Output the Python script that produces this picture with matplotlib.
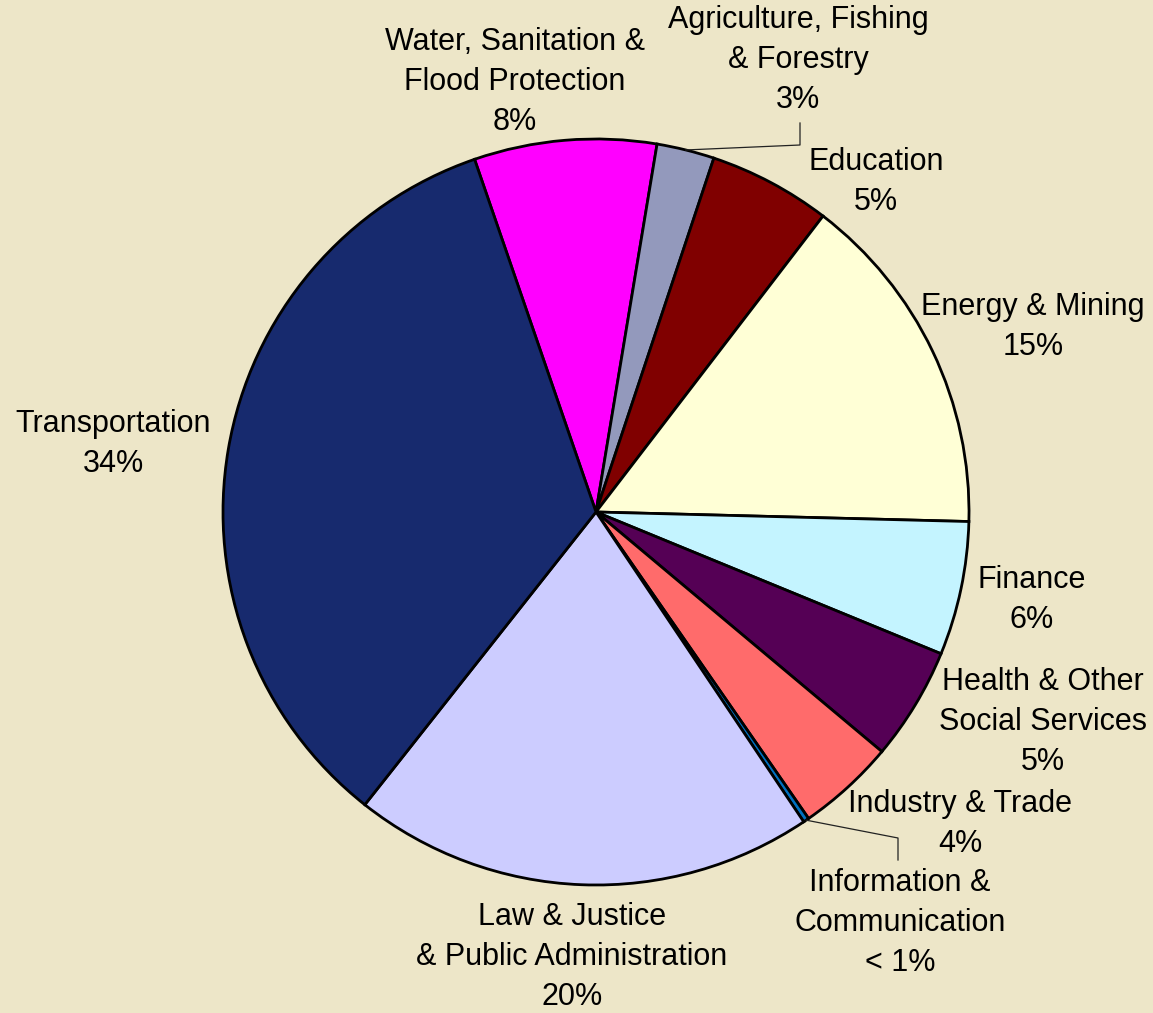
import numpy as np
import matplotlib
matplotlib.use("Agg")
import matplotlib.pyplot as plt

plt.rcParams["font.family"] = ["Liberation Sans", "DejaVu Sans"]

# data (clockwise from the Water slice)
sectors = [
    "Water, Sanitation &\nFlood Protection",
    "Agriculture, Fishing\n& Forestry",
    "Education",
    "Energy & Mining",
    "Finance",
    "Health & Other\nSocial Services",
    "Industry & Trade",
    "Information &\nCommunication",
    "Law & Justice\n& Public Administration",
    "Transportation",
]
shares = [7.9, 2.5, 5.3, 15.0, 5.8, 4.9, 4.25, 0.25, 20.05, 34.1]
pct_labels = ["8%", "3%", "5%", "15%", "6%", "5%", "4%", "< 1%", "20%", "34%"]
colors = ["#FF00FF", "#9399BC", "#800000", "#FFFFD6", "#C4F4FF",
          "#550055", "#FF6B6B", "#0070C0", "#CCCCFF", "#172A6E"]

BG = "#EDE6C8"
W, H = 1153, 1013

fig = plt.figure(figsize=(W / 100, H / 100), dpi=100, facecolor=BG)
ax = fig.add_axes([0, 0, 1, 1])
ax.set_facecolor(BG)

cx, cy, r = 596, H - 512, 373
start = 109.0
wedges, _ = ax.pie(
    shares, colors=colors, startangle=start, counterclock=False,
    center=(cx, cy), radius=r, frame=True,
    wedgeprops=dict(edgecolor="black", linewidth=2.0),
)
ax.set_xlim(0, W)
ax.set_ylim(0, H)
ax.set_aspect("equal")
ax.axis("off")

# label block centres in pixel coords (from top)
label_pos = [
    (515, 82), (798, 60), (876, 182), (1033, 327), (1032, 600),
    (1043, 722), (960, 824), (900, 923), (572, 957), (113, 444),
]
fs = 22
for name, pct, (lx, ly) in zip(sectors, pct_labels, label_pos):
    ax.text(lx, H - ly, f"{name}\n{pct}", ha="center", va="center",
            fontsize=fs, linespacing=1.42, color="black")


def edge_point(i):
    theta1, theta2 = wedges[i].theta1, wedges[i].theta2
    mid = np.deg2rad((theta1 + theta2) / 2)
    return cx + r * np.cos(mid), cy + r * np.sin(mid)


# leader lines for the small slices
ex, ey = edge_point(1)
ax.plot([800, 800, ex], [H - 123, H - 145, ey], color="#222222", lw=0.9)
ex, ey = edge_point(7)
ax.plot([898, 898, ex], [H - 860, H - 838, ey], color="#222222", lw=0.9)

fig.savefig("out.png", dpi=100, facecolor=BG)
